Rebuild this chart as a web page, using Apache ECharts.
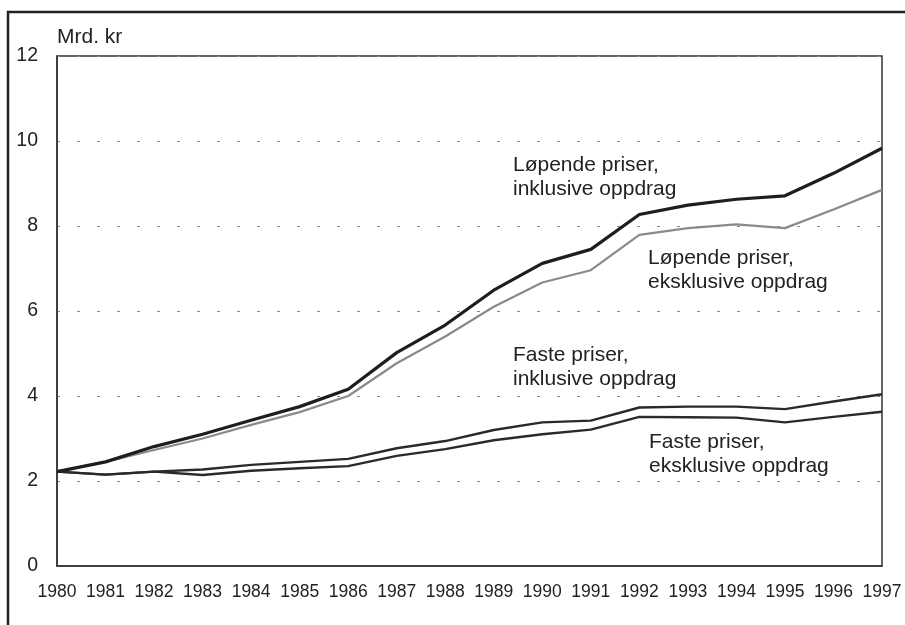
<!DOCTYPE html>
<html>
<head>
<meta charset="utf-8">
<script src="https://cdn.jsdelivr.net/npm/echarts@6/dist/echarts.min.js"></script>
<style>
html,body{margin:0;padding:0;background:#fff;}
#chart{width:905px;height:625px;}
</style>
</head>
<body>
<div id="chart"></div>
<script>
var years = ['1980','1981','1982','1983','1984','1985','1986','1987','1988','1989','1990','1991','1992','1993','1994','1995','1996','1997'];
var lopendeInkl = [2.22,2.45,2.81,3.10,3.43,3.75,4.16,5.02,5.67,6.49,7.12,7.45,8.27,8.49,8.63,8.71,9.24,9.83];
var lopendeEkskl = [2.22,2.45,2.73,3.00,3.32,3.62,4.00,4.77,5.40,6.10,6.67,6.96,7.79,7.95,8.04,7.95,8.39,8.85];
var fasteInkl = [2.22,2.15,2.22,2.27,2.38,2.45,2.52,2.77,2.94,3.20,3.38,3.42,3.73,3.75,3.75,3.69,3.87,4.04];
var fasteEkskl = [2.22,2.15,2.22,2.14,2.24,2.30,2.35,2.59,2.75,2.96,3.10,3.21,3.51,3.50,3.49,3.38,3.51,3.63];
var yTicks = [0,2,4,6,8,10,12];

var font = 'Liberation Sans, Arial, Helvetica, sans-serif';
var chart = echarts.init(document.getElementById('chart'), null, {renderer:'canvas'});

function lineSeries(name, data, color, width){
  return {name:name, type:'line', data:data, symbol:'none', smooth:false,
    lineStyle:{color:color, width:width}, z:3, animation:false};
}
function label(x, y, lines){
  return {type:'text', left:x, top:y, z:10,
    style:{text:lines.join('\n'), font:'21px ' + font, fill:'#222', lineHeight:24}};
}

chart.setOption({
  animation:false,
  backgroundColor:'#fff',
  grid:{left:57, top:56, right:23, bottom:59, show:true, borderColor:'#333', borderWidth:1.5, backgroundColor:'transparent'},
  xAxis:{type:'category', data:years, boundaryGap:false,
    axisLine:{show:true, lineStyle:{color:'#333', width:1.5}},
    axisTick:{show:false},
    axisLabel:{color:'#222', fontSize:17.5, fontFamily:font, margin:17, interval:0},
    splitLine:{show:false}},
  yAxis:{type:'value', min:0, max:12, interval:2,
    axisLine:{show:true, lineStyle:{color:'#333', width:1.5}},
    axisTick:{show:false},
    axisLabel:{color:'#222', fontSize:19.5, fontFamily:font, margin:19,
      formatter:function(v){ return yTicks.indexOf(v) >= 0 ? String(v) : ''; }},
    splitLine:{show:true, lineStyle:{color:'#888', width:1.2, type:[3,17]}}},
  series:[
    lineSeries('Faste priser, eksklusive oppdrag', fasteEkskl, '#2a2a2a', 2.4),
    lineSeries('Faste priser, inklusive oppdrag', fasteInkl, '#2a2a2a', 2.4),
    lineSeries('Løpende priser, eksklusive oppdrag', lopendeEkskl, '#8a8a8a', 2.2),
    lineSeries('Løpende priser, inklusive oppdrag', lopendeInkl, '#1e1e1e', 3.2)
  ],
  graphic:[
    {type:'rect', shape:{x:8, y:12, width:1000, height:1000}, z:0,
      style:{fill:'none', stroke:'#222', lineWidth:2.5}},
    {type:'text', left:57, top:27, z:10, style:{text:'Mrd. kr', font:'21px ' + font, fill:'#222'}},
    label(513, 153, ['Løpende priser,', 'inklusive oppdrag']),
    label(648, 246, ['Løpende priser,', 'eksklusive oppdrag']),
    label(513, 343, ['Faste priser,', 'inklusive oppdrag']),
    label(649, 430, ['Faste priser,', 'eksklusive oppdrag'])
  ]
});
</script>
</body>
</html>
